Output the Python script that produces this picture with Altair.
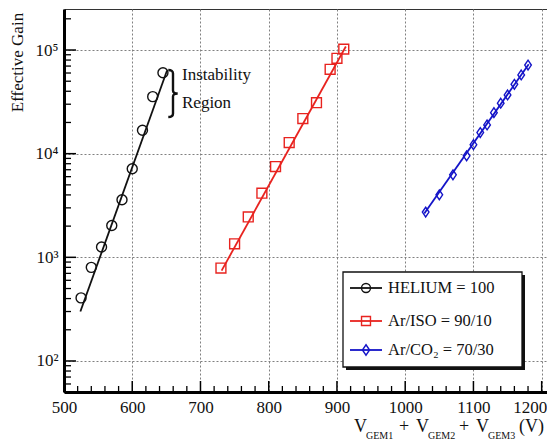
import altair as alt
import pandas as pd

# ---- data ----
series_names = ["HELIUM = 100", "Ar/ISO = 90/10", "Ar/CO₂ = 70/30"]
series_colors = ["#111111", "#e8231f", "#1414c8"]

helium_v = [525, 540, 555, 570, 585, 600, 615, 630, 645]
helium_gain = [406, 800, 1256, 2030, 3590, 7150, 16800, 35500, 60400]

ariso_v = [730, 750, 770, 790, 810, 830, 850, 870, 890, 900, 910]
ariso_gain = [788, 1350, 2450, 4160, 7510, 12800, 21800, 31000, 65200, 83200, 102000]

arco2_v = [1030, 1050, 1070, 1090, 1100, 1110, 1120, 1130, 1140, 1150, 1160, 1170, 1180]
arco2_gain = [2730, 4010, 6250, 9530, 12200, 15970, 18930, 24880, 30670, 36850, 46730, 57450, 71650]

# exponential fit lines (end points)
helium_fit_v = [524, 651]
helium_fit_gain = [300, 63500]
ariso_fit_v = [731, 913]
ariso_fit_gain = [745, 108000]
arco2_fit_v = [1028, 1181]
arco2_fit_gain = [2650, 73000]

x_major = [500, 600, 700, 800, 900, 1000, 1100, 1200]
x_minor = [v for v in range(500, 1201, 20) if v % 100 != 0]
y_major = [100, 1000, 10000, 100000]
y_minor = [m * 10 ** k for k in range(1, 6) for m in range(2, 10) if 50 <= m * 10 ** k <= 240000]

FONT = "Liberation Serif"
W, H = 483, 383

pts = pd.concat([
    pd.DataFrame({"V": helium_v, "G": helium_gain, "S": series_names[0]}),
    pd.DataFrame({"V": ariso_v, "G": ariso_gain, "S": series_names[1]}),
    pd.DataFrame({"V": arco2_v, "G": arco2_gain, "S": series_names[2]}),
])
fits = pd.concat([
    pd.DataFrame({"V": helium_fit_v, "G": helium_fit_gain, "S": series_names[0]}),
    pd.DataFrame({"V": ariso_fit_v, "G": ariso_fit_gain, "S": series_names[1]}),
    pd.DataFrame({"V": arco2_fit_v, "G": arco2_fit_gain, "S": series_names[2]}),
])

xs = alt.Scale(domain=[500, 1207.8], nice=False, zero=False)
ys = alt.Scale(type="log", domain=[50.2, 248700], nice=False)

xax = alt.Axis(values=x_major, format="d", title=None, ticks=False, grid=True,
               gridDash=[2, 2], gridColor="#808080", gridWidth=1,
               domainColor="#000000", domainWidth=3, labelFlush=False, labelOverlap=False,
               labelOffset={"condition": {"test": "datum.value == 1200", "value": -12}, "value": 0},
               labelFont=FONT, labelFontSize=17, labelColor="#111", labelPadding=7)
yax = alt.Axis(values=y_major, title="Effective Gain", ticks=False, grid=True,
               gridDash=[2, 2], gridColor="#808080", gridWidth=1,
               domainColor="#000000", domainWidth=3, labelFlush=False, labelOverlap=False,
               labelExpr="'10' + ['⁰','¹','²','³','⁴','⁵','⁶'][round(log(datum.value)/LN10)]",
               labelFont=FONT, labelFontSize=17, labelColor="#111", labelPadding=6,
               titleFont=FONT, titleFontSize=17, titleFontWeight="normal", titleColor="#111",
               titleX=-47, titleY=53, titleAngle=270, titleAlign="center", titleBaseline="middle")


def X():
    return alt.X("V:Q", scale=xs, axis=xax)


def Y():
    return alt.Y("G:Q", scale=ys, axis=yax)


color = alt.Color("S:N", scale=alt.Scale(domain=series_names, range=series_colors), legend=None)
diamond = "M0,-1L0.68,0L0,1L-0.68,0Z"
shape = alt.Shape("S:N", scale=alt.Scale(domain=series_names, range=["circle", "square", diamond]), legend=None)
size = alt.Size("S:N", scale=alt.Scale(domain=series_names, range=[100, 95, 120]), legend=None)

# inward ticks
xminor = alt.Chart(pd.DataFrame({"V": x_minor})).mark_rule(color="black", strokeWidth=1.3).encode(
    x=X(), y=alt.value(H), y2=alt.value(H - 6))
xmajor = alt.Chart(pd.DataFrame({"V": x_major})).mark_rule(color="black", strokeWidth=1.5).encode(
    x=X(), y=alt.value(H), y2=alt.value(H - 11))
yminor = alt.Chart(pd.DataFrame({"G": y_minor})).mark_rule(color="black", strokeWidth=1.3).encode(
    y=Y(), x=alt.value(0), x2=alt.value(7))
ymajor = alt.Chart(pd.DataFrame({"G": y_major})).mark_rule(color="black", strokeWidth=1.5).encode(
    y=Y(), x=alt.value(0), x2=alt.value(12))

lines = alt.Chart(fits).mark_line(strokeWidth=1.8, clip=True).encode(
    x=X(), y=Y(), color=color, detail="S:N")
points = alt.Chart(pts).mark_point(filled=False, strokeWidth=1.4, opacity=1, clip=True).encode(
    x=X(), y=Y(), color=color, shape=shape, size=size)

one = pd.DataFrame({"k": [0]})


def txt(t, x, y, fs, align="left", baseline="alphabetic", font=FONT):
    return alt.Chart(one).mark_text(text=t, font=font, fontSize=fs, align=align,
                                    baseline=baseline, color="#111").encode(
        x=alt.value(x), y=alt.value(y))


# Instability annotation (curly brace drawn as a stroked symbol)
brace_path = ("M-0.2,-1 Q0,-1 0,-0.85 L0,-0.13 Q0,0 0.2,0 "
              "Q0,0 0,0.13 L0,0.85 Q0,1 -0.2,1")
annot = [
    alt.Chart(one).mark_point(shape=brace_path, filled=False, color="#111", size=2209,
                              strokeWidth=2.4, opacity=1).encode(
        x=alt.value(109), y=alt.value(84.5)),
    txt("Instability", 118, 71, 17),
    txt("Region", 118, 99, 17),
]

# x-axis title with subscripts
dx = -31
xtitle = [
    txt("V", 321 + dx, 423, 18), txt("GEM1", 333 + dx, 430, 10),
    txt("+", 366 + dx, 423, 18),
    txt("V", 383 + dx, 423, 18), txt("GEM2", 395 + dx, 430, 10),
    txt("+", 426 + dx, 423, 18),
    txt("V", 443 + dx, 423, 18), txt("GEM3", 455 + dx, 430, 10),
    txt("(V)", 486 + dx, 423, 18),
]

# legend box
lx0, lx1, ly0, ly1 = 279, 458, 263, 358
shadow = alt.Chart(one).mark_rect(color="#111").encode(
    x=alt.value(lx0 + 3), x2=alt.value(lx1 + 3), y=alt.value(ly0 + 3), y2=alt.value(ly1 + 3))
box = alt.Chart(one).mark_rect(fill="white", stroke="#111", strokeWidth=1.3).encode(
    x=alt.value(lx0), x2=alt.value(lx1), y=alt.value(ly0), y2=alt.value(ly1))

legend_rows = []
row_y = [279, 312, 341]
row_shapes = ["circle", "square", diamond]
row_sizes = [80, 80, 110]
for name, col, yy, shp, sz in zip(series_names, series_colors, row_y, row_shapes, row_sizes):
    legend_rows.append(alt.Chart(one).mark_rule(color=col, strokeWidth=1.8).encode(
        x=alt.value(286), x2=alt.value(318), y=alt.value(yy)))
    legend_rows.append(alt.Chart(one).mark_point(shape=shp, filled=False, color=col, size=sz,
                                                 strokeWidth=1.4, opacity=1).encode(
        x=alt.value(302), y=alt.value(yy)))
    legend_rows.append(txt(name, 324, yy, 16.5, baseline="middle"))

chart = alt.layer(
    xminor, xmajor, yminor, ymajor, lines, points, *annot, *xtitle, shadow, box, *legend_rows
).properties(
    width=W, height=H,
    padding={"left": 56, "top": 1, "right": 0, "bottom": 48},
    autosize=alt.AutoSizeParams(type="none"),
).configure_view(stroke="#333", strokeWidth=1)

chart.save("out.html", embed_options={"renderer": "svg", "actions": False})
